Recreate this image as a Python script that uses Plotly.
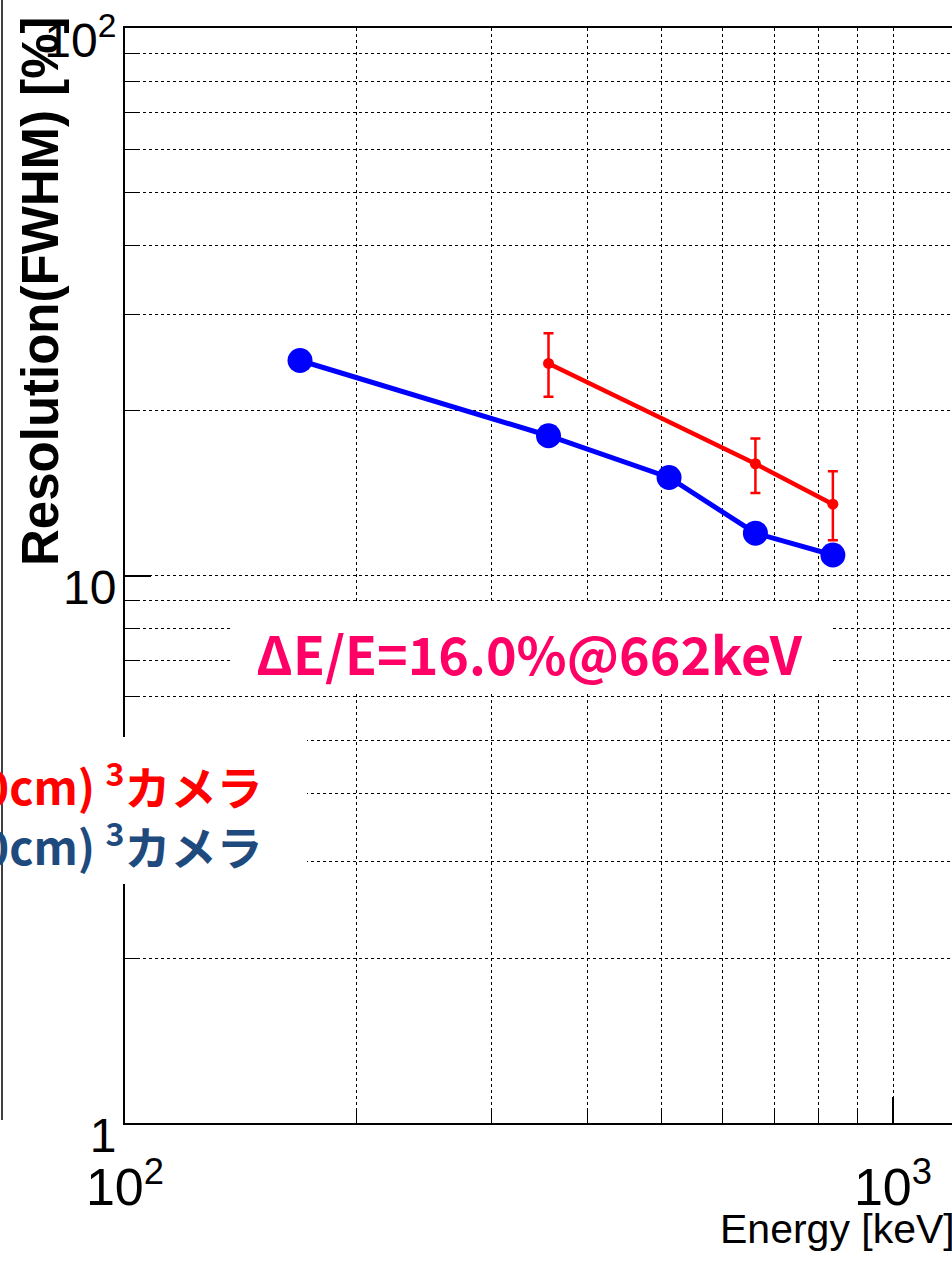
import plotly.graph_objects as go

# Energy resolution (FWHM) of the two cameras versus gamma-ray energy
energy_blue = [169, 356, 511, 662, 835]
res_blue = [24.7, 18.0, 15.1, 11.95, 10.9]

energy_red = [356, 662, 835]
res_red = [24.4, 16.0, 13.5]
res_red_err_plus = [3.3, 1.8, 2.0]
res_red_err_minus = [3.2, 1.85, 1.9]

x_major = [100, 1000]
x_major_text = ["10<sup>2</sup>", "10<sup>3</sup>"]
x_minor = [200, 300, 400, 500, 600, 700, 800, 900]

y_major = [1, 10, 100]
y_major_text = ["1", "10", "10<sup>2</sup>"]
y_minor = [2, 3, 4, 5, 6, 7, 8, 9, 20, 30, 40, 50, 60, 70, 80, 90]

legend_red = "0cm) <sup>3</sup>カメラ"
legend_blue = "0cm) <sup>3</sup>カメラ"
resolution_note = "ΔE/E=16.0%@662keV"

W, H = 952, 1261
ML, MR, MT, MB = 125, 0, 28, 138
PW, PH = W - ML - MR, H - MT - MB
DECADE_PX = 768


def px(xp):
    return (xp - ML) / PW


def py(yp):
    return (H - MB - yp) / PH


SANS = "Liberation Sans, Arial, sans-serif"
GRID = dict(showgrid=True, gridcolor="#000000", gridwidth=1, griddash="3px,3px")

fig = go.Figure()

fig.add_trace(go.Scatter(
    x=energy_blue, y=res_blue, mode="lines+markers",
    line=dict(color="#0000FF", width=5),
    marker=dict(size=25, color="#0000FF"),
    showlegend=False,
))

fig.add_trace(go.Scatter(
    x=energy_red, y=res_red, mode="lines+markers",
    line=dict(color="#FF0000", width=4.5),
    marker=dict(size=11, color="#FF0000"),
    error_y=dict(type="data", symmetric=False, array=res_red_err_plus,
                 arrayminus=res_red_err_minus, color="#FF0000",
                 thickness=2.5, width=5),
    showlegend=False,
))

fig.update_xaxes(
    type="log", range=[2, 2 + PW / DECADE_PX], automargin=False,
    showline=True, linecolor="#000000", linewidth=2, mirror=True,
    ticks="inside", ticklen=26, tickwidth=1.5, tickcolor="#000000",
    tickmode="array", tickvals=x_major, ticktext=x_major_text,
    tickfont=dict(family=SANS, size=52, color="#000000"),
    ticklabelstandoff=18, ticklabeloverflow="allow",
    zeroline=False,
    minor=dict(tickmode="array", tickvals=x_minor, ticks="inside", ticklen=14,
               tickcolor="#000000", tickwidth=1, **GRID),
    **GRID,
)

fig.update_yaxes(
    type="log", range=[0, 2], automargin=False,
    showline=True, linecolor="#000000", linewidth=2, mirror=False,
    ticks="inside", ticklen=26, tickwidth=1.5, tickcolor="#000000",
    tickmode="array", tickvals=y_major, ticktext=y_major_text,
    tickfont=dict(family=SANS, size=48, color="#000000"),
    ticklabelstandoff=-3, ticklabelshift=12, ticklabeloverflow="allow",
    zeroline=False,
    minor=dict(tickmode="array", tickvals=y_minor, ticks="inside", ticklen=14,
               tickcolor="#000000", tickwidth=1, **GRID),
    **GRID,
)

shapes = [
    # white panel behind the resolution note
    dict(type="rect", xref="paper", yref="paper", layer="above",
         x0=px(232), x1=px(830), y0=py(694), y1=py(603),
         fillcolor="#FFFFFF", line=dict(width=0)),
    # white panel behind the camera labels
    dict(type="rect", xref="paper", yref="paper", layer="above",
         x0=px(-5), x1=px(307), y0=py(884), y1=py(737),
         fillcolor="#FFFFFF", line=dict(width=0)),
    # frame edge of the neighbouring panel
    dict(type="line", xref="paper", yref="paper", layer="above",
         x0=px(2), x1=px(2), y0=py(1120), y1=py(0),
         line=dict(color="#000000", width=1.5)),
]

annotations = [
    dict(text=resolution_note, xref="paper", yref="paper",
         x=px(529), y=py(652), xanchor="center", yanchor="middle",
         showarrow=False,
         font=dict(family="Noto Sans CJK JP", size=52, color="#FF0066", weight="bold")),
    dict(text=legend_red, xref="paper", yref="paper",
         x=px(265), y=py(783), xanchor="right", yanchor="middle",
         showarrow=False,
         font=dict(family="Noto Sans CJK JP", size=46, color="#FF0000", weight="bold")),
    dict(text=legend_blue, xref="paper", yref="paper",
         x=px(265), y=py(843), xanchor="right", yanchor="middle",
         showarrow=False,
         font=dict(family="Noto Sans CJK JP", size=46, color="#1F4A7E", weight="bold")),
    dict(text="Resolution(FWHM) [%]", xref="paper", yref="paper",
         x=px(40), y=py(14), xanchor="center", yanchor="top", textangle=-90,
         showarrow=False,
         font=dict(family=SANS, size=51, color="#000000", weight="bold")),
    dict(text="Energy [keV]", xref="paper", yref="paper",
         x=px(957), y=py(1254), xanchor="right", yanchor="bottom",
         showarrow=False,
         font=dict(family=SANS, size=41, color="#000000")),
]

fig.update_layout(
    width=W, height=H, autosize=False,
    margin=dict(l=ML, r=MR, t=MT, b=MB, pad=0, autoexpand=False),
    paper_bgcolor="#FFFFFF", plot_bgcolor="#FFFFFF",
    showlegend=False,
    shapes=shapes,
    annotations=annotations,
)

fig.write_html("out.html")
